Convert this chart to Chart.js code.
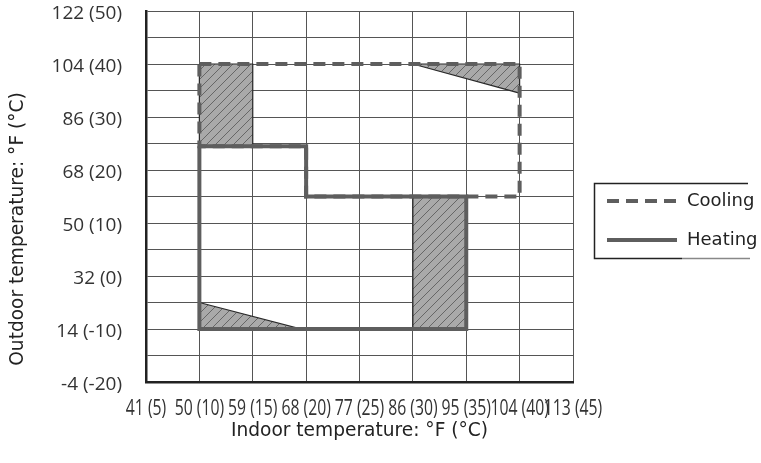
<!DOCTYPE html>
<html>
<head>
<meta charset="utf-8">
<script src="https://cdn.jsdelivr.net/npm/chart.js@4.4.1/dist/chart.umd.min.js"></script>
<style>
  html, body { margin: 0; padding: 0; background: #ffffff; }
  #wrap { width: 761px; height: 463px; }
</style>
</head>
<body>
<div id="wrap"><canvas id="c" width="761" height="463"></canvas></div>
<script>
// ---- data (°C) ----
const xTickLabels = ['41 (5)', '50 (10)', '59 (15)', '68 (20)', '77 (25)', '86 (30)', '95 (35)', '104 (40)', '113 (45)'];
const yTickLabels = ['-4 (-20)', '14 (-10)', '32 (0)', '50 (10)', '68 (20)', '86 (30)', '104 (40)', '122 (50)'];
const seriesNames = ['Cooling', 'Heating'];

const coolingIndoor  = [10, 40, 40, 20, 20, 10, 10];
const coolingOutdoor = [40, 40, 15, 15, 24.5, 24.5, 40];

const heatingIndoor  = [10, 20, 20, 35, 35, 10, 10];
const heatingOutdoor = [24.5, 24.5, 15, 15, -10, -10, 24.5];

const hatchCoolLowIndoor   = [10, 15, 15, 10, 10];
const hatchCoolLowOutdoor  = [40, 40, 24.5, 24.5, 40];
const hatchCoolHighIndoor  = [30, 40, 40, 30];
const hatchCoolHighOutdoor = [40, 40, 34.5, 40];
const hatchHeatHighIndoor  = [30, 35, 35, 30, 30];
const hatchHeatHighOutdoor = [15, 15, -10, -10, 15];
const hatchHeatLowIndoor   = [10, 19.5, 10, 10];
const hatchHeatLowOutdoor  = [-5, -10, -10, -5];

function pts(xs, ys) { return xs.map((x, i) => ({ x: x, y: ys[i] })); }

function hatchPattern() {
  const s = 9;
  const c = document.createElement('canvas');
  c.width = s; c.height = s;
  const g = c.getContext('2d');
  g.fillStyle = '#a9a9a9';
  g.fillRect(0, 0, s, s);
  g.strokeStyle = '#666666';
  g.lineWidth = 1;
  g.beginPath();
  g.moveTo(0, s); g.lineTo(s, 0);
  g.moveTo(-1, 1); g.lineTo(1, -1);
  g.moveTo(s - 1, s + 1); g.lineTo(s + 1, s - 1);
  g.stroke();
  return g.createPattern(c, 'repeat');
}
const pattern = hatchPattern();

const LINE = '#5e5e5e';

function hatchSet(xs, ys) {
  return {
    label: '',
    data: pts(xs, ys),
    showLine: true,
    fill: 'shape',
    backgroundColor: pattern,
    borderColor: '#2a2a2a',
    borderWidth: 1.2,
    pointRadius: 0,
    tension: 0
  };
}

// condensed x tick labels (drawn at the x scale's tick pixels)
const xLabelPlugin = {
  id: 'xLabels',
  afterDraw(chart) {
    const sc = chart.scales.x;
    const ctx = chart.ctx;
    ctx.save();
    ctx.font = '21px "Open Sans", "Noto Sans", sans-serif';
    ctx.fillStyle = '#333';
    ctx.textAlign = 'center';
    ctx.textBaseline = 'middle';
    sc.ticks.forEach((t) => {
      const lbl = xTickLabels[Math.round((t.value - 5) / 5)];
      if (!lbl) return;
      const px = sc.getPixelForValue(t.value);
      ctx.save();
      ctx.translate(px, 409);
      ctx.scale(0.75, 1);
      ctx.fillText(lbl, 0, 0);
      ctx.restore();
    });
    ctx.restore();
  }
};

const legendBox = {
  id: 'legendBox',
  afterDraw(chart) {
    const ctx = chart.ctx;
    ctx.save();
    ctx.lineWidth = 1.5;
    ctx.strokeStyle = '#222';
    ctx.beginPath();
    ctx.moveTo(748, 183.5); ctx.lineTo(594.5, 183.5); ctx.lineTo(594.5, 258.5); ctx.lineTo(682, 258.5);
    ctx.stroke();
    ctx.strokeStyle = '#888';
    ctx.beginPath(); ctx.moveTo(682, 258.5); ctx.lineTo(750, 258.5); ctx.stroke();

    const ds = chart.data.datasets;
    const items = [
      { y: 201, dash: ds[0].borderDash, text: ds[0].label },
      { y: 240, dash: [], text: ds[1].label }
    ];
    ctx.font = '18px "DejaVu Sans"';
    ctx.textBaseline = 'middle';
    ctx.textAlign = 'left';
    items.forEach(it => {
      ctx.strokeStyle = LINE;
      ctx.lineWidth = 4;
      ctx.setLineDash(it.dash);
      ctx.beginPath(); ctx.moveTo(607, it.y); ctx.lineTo(677, it.y); ctx.stroke();
      ctx.setLineDash([]);
      ctx.fillStyle = '#222';
      ctx.fillText(it.text, 687, it.y);
    });
    ctx.restore();
  }
};

function zeroPad(scale) {
  scale.paddingLeft = 0; scale.paddingRight = 0; scale.paddingTop = 0; scale.paddingBottom = 0;
}

new Chart(document.getElementById('c'), {
  type: 'scatter',
  data: {
    datasets: [
      {
        label: seriesNames[0],
        data: pts(coolingIndoor, coolingOutdoor),
        showLine: true,
        fill: false,
        borderColor: LINE,
        borderWidth: 4,
        borderDash: [12, 7],
        pointRadius: 0,
        tension: 0
      },
      {
        label: seriesNames[1],
        data: pts(heatingIndoor, heatingOutdoor),
        showLine: true,
        fill: false,
        borderColor: LINE,
        borderWidth: 4,
        pointRadius: 0,
        tension: 0
      },
      hatchSet(hatchCoolLowIndoor, hatchCoolLowOutdoor),
      hatchSet(hatchCoolHighIndoor, hatchCoolHighOutdoor),
      hatchSet(hatchHeatHighIndoor, hatchHeatHighOutdoor),
      hatchSet(hatchHeatLowIndoor, hatchHeatLowOutdoor)
    ]
  },
  options: {
    responsive: false,
    animation: false,
    devicePixelRatio: 1,
    layout: { padding: { left: 0, top: 11, right: 188, bottom: 0 } },
    plugins: { legend: { display: false }, tooltip: { enabled: false } },
    scales: {
      x: {
        type: 'linear',
        min: 5, max: 45,
        afterFit(scale) { scale.height = 81; zeroPad(scale); },
        ticks: {
          display: false,
          stepSize: 5,
          autoSkip: false,
          maxRotation: 0, minRotation: 0,
          callback: (v) => xTickLabels[Math.round((v - 5) / 5)] ?? ''
        },
        grid: { color: '#555', lineWidth: 1, drawTicks: false },
        border: { display: true, color: '#222', width: 2.5 },
        title: {
          display: true,
          text: 'Indoor temperature: °F (°C)',
          color: '#222',
          font: { family: '"DejaVu Sans", sans-serif', size: 18.6 },
          padding: { top: 0, bottom: 21 }
        }
      },
      y: {
        type: 'linear',
        min: -20, max: 50,
        afterFit(scale) { scale.width = 146; zeroPad(scale); },
        ticks: {
          stepSize: 5,
          autoSkip: false,
          padding: 24,
          labelOffset: 3,
          color: '#333',
          font: { family: '"Open Sans", "Noto Sans", sans-serif', size: 19 },
          callback: (v) => (Math.round(v) % 10 === 0) ? (yTickLabels[Math.round((v + 20) / 10)] ?? '') : ''
        },
        grid: { color: '#555', lineWidth: 1, drawTicks: false },
        border: { display: true, color: '#222', width: 2.5 },
        title: {
          display: true,
          text: 'Outdoor temperature: °F (°C)           ',
          color: '#222',
          font: { family: '"DejaVu Sans", sans-serif', size: 18.6 },
          padding: { top: 7, bottom: 0 }
        }
      }
    }
  },
  plugins: [xLabelPlugin, legendBox]
});
</script>
</body>
</html>
